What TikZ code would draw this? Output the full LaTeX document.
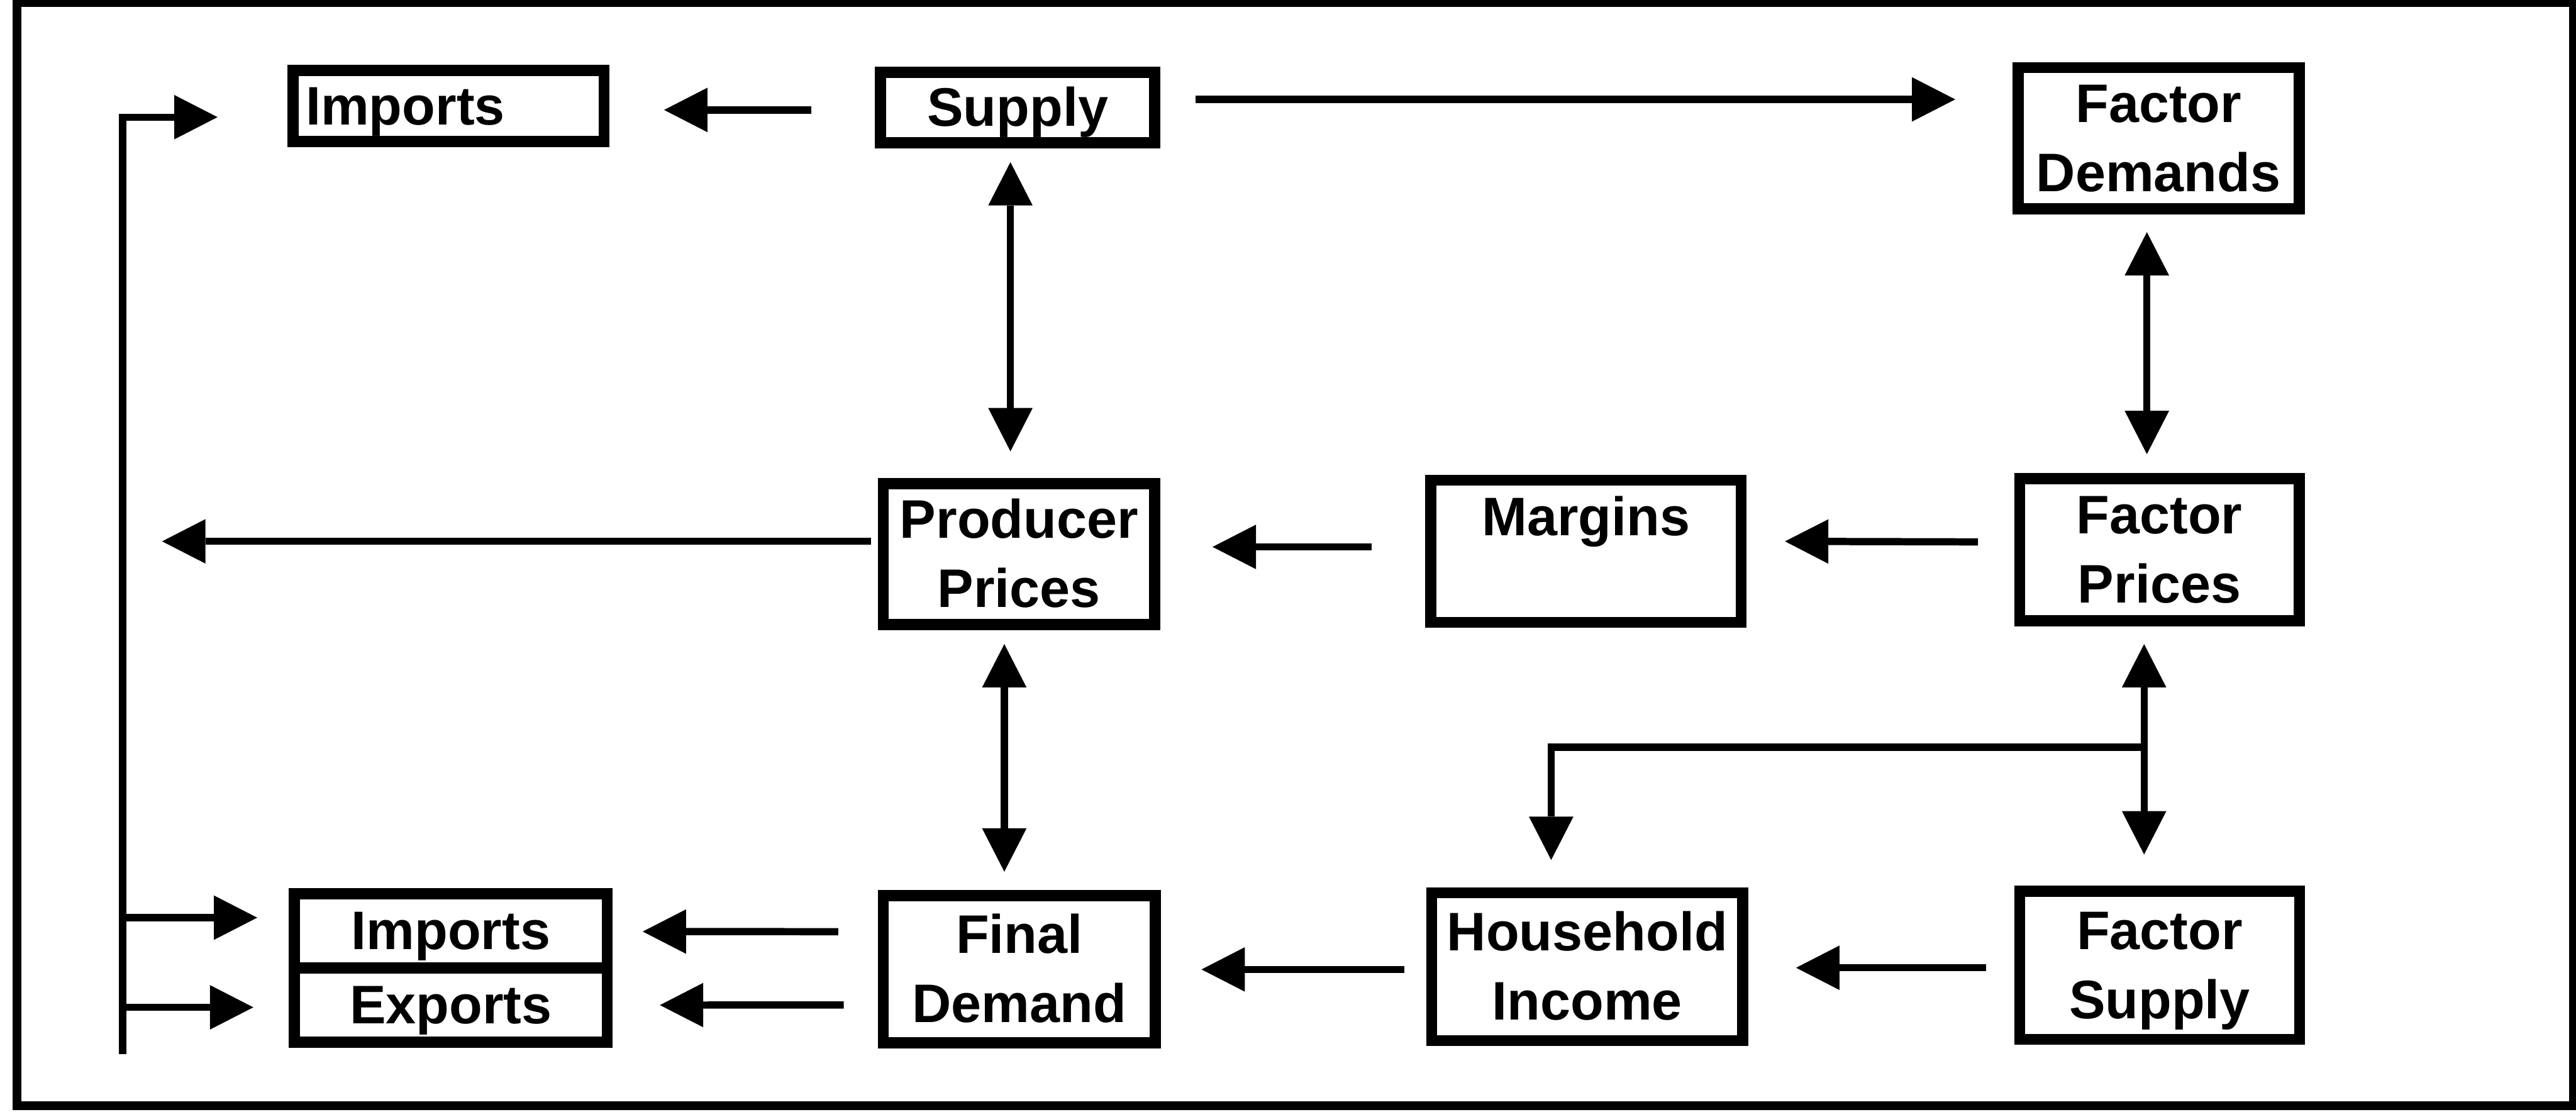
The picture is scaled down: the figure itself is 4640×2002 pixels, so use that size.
\documentclass[tikz,border=0pt]{standalone}
\usepackage{fontspec}
\setmainfont{Liberation Sans}
\usetikzlibrary{arrows.meta,calc}
\newcommand\bxfont{\bfseries\fontsize{27.8pt}{35.3pt}\selectfont}
\newcommand\tx[1]{\raisebox{0pt}[0.67cm][0pt]{#1}}
\tikzset{
  box/.style={draw, line width=0.2cm, inner sep=0pt, align=center, font=\bxfont, fill=white},
  con/.style={line width=0.13cm},
  tip/.tip={Triangle[length=0.78cm, width=0.8cm, line width=0pt]},
  arr/.style={con, -tip},
  darr/.style={con, tip-tip},
}
\begin{document}
\begin{tikzpicture}[x=0.01cm, y=-0.01cm]
\useasboundingbox (0,0) rectangle (4640,2002);
\fill[white] (0,0) rectangle (4640,2002);
\draw[line width=0.16cm] (31,4) rectangle (4636,1991);

% boxes
\node[box, align=left, text width=5.14cm, inner xsep=0.23cm, minimum height=1.28cm] (impT) at (808,191) {\tx{Imports}};
\node[box, minimum width=4.94cm, minimum height=1.27cm] (supply) at (1833,193.5) {\tx{Supply}};
\node[box, minimum width=5.06cm, minimum height=2.54cm] (fdem) at (3888,249) {\tx{Factor}\\\tx{Demands}};
\node[box, minimum width=4.89cm, minimum height=2.54cm] (prod) at (1835.5,998) {\tx{Producer}\\\tx{Prices}};
\node[box, minimum width=5.59cm, minimum height=2.56cm] (marg) at (2856.5,993) {\tx{Margins}\\\tx{}};
\node[box, minimum width=5.03cm, minimum height=2.56cm] (fpri) at (3889.5,990) {\tx{Factor}\\\tx{Prices}};
\node[box, minimum width=5.63cm, minimum height=1.335cm] (impB) at (812,1676.75) {\tx{Imports}};
\node[box, minimum width=5.63cm, minimum height=1.335cm] (expB) at (812,1810.25) {\tx{Exports}};
\node[box, minimum width=4.90cm, minimum height=2.65cm] (fdemand) at (1836,1745.5) {\tx{Final}\\\tx{Demand}};
\node[box, minimum width=5.60cm, minimum height=2.66cm] (hh) at (2859,1741) {\tx{Household}\\\tx{Income}};
\node[box, minimum width=5.04cm, minimum height=2.67cm] (fsup) at (3890,1738.5) {\tx{Factor}\\\tx{Supply}};

% free ends
\coordinate (pl) at (292,975);
\coordinate (br) at (3862,1346);
\coordinate (fb) at (221,1899);

% connectors
\draw[arr] ($(supply.west)+(-114,4.5)$) -- ($(supply.west -| impT.east)+(98,4.5)$);
\draw[arr] ($(supply.east)+(63,-14.5)$) -- ($(supply.east -| fdem.west)+(-103,-14.5)$);
\draw[darr] ($(supply.south)+(-13,25)$) -- ($(prod.north)+(-15.5,-48)$);
\draw[darr] ($(fdem.south)+(-21,32)$) -- ($(fpri.north)+(-22.5,-34)$);
\draw[arr] ($(prod.west)+(-12,-23)$) -- (pl);
\draw[arr] ($(marg.west)+(-96,-8)$) -- ($(prod.east)+(94,-13)$);
\draw[arr] ($(fpri.west)+(-65,-14)$) -- ($(marg.east)+(69,-18)$);
\draw[darr] ($(prod.south)+(-26.5,25)$) -- ($(fdemand.north)+(-27,-33)$);
\draw[darr] ($(fpri.south)+(-27.5,32)$) -- ($(fsup.north)+(-28,-56)$);
\draw[arr] (br) -| ($(hh.north)+(-65,-49)$);
\draw[arr] ($(fsup.west)+(-50,4.5)$) -- ($(hh.east)+(86,2)$);
\draw[arr] ($(hh.west)+(-39,5)$) -- ($(fdemand.east)+(73,0.5)$);
\draw[arr] ($(fdemand.west)+(-71,-67.5)$) -- ($(impB.east)+(54,1)$);
\draw[arr] ($(fdemand.west)+(-61,64.5)$) -- ($(expB.east)+(85,0)$);

% feeder on the left
\draw[arr] (fb) |- ($(impT.west)+(-126,20)$);
\path ($(impB.west)+(-57,-24)$) coordinate (t1);
\path ($(expB.west)+(-64,4)$) coordinate (t2);
\draw[arr] (fb |- t1) -- (t1);
\draw[arr] (fb |- t2) -- (t2);
\end{tikzpicture}
\end{document}
